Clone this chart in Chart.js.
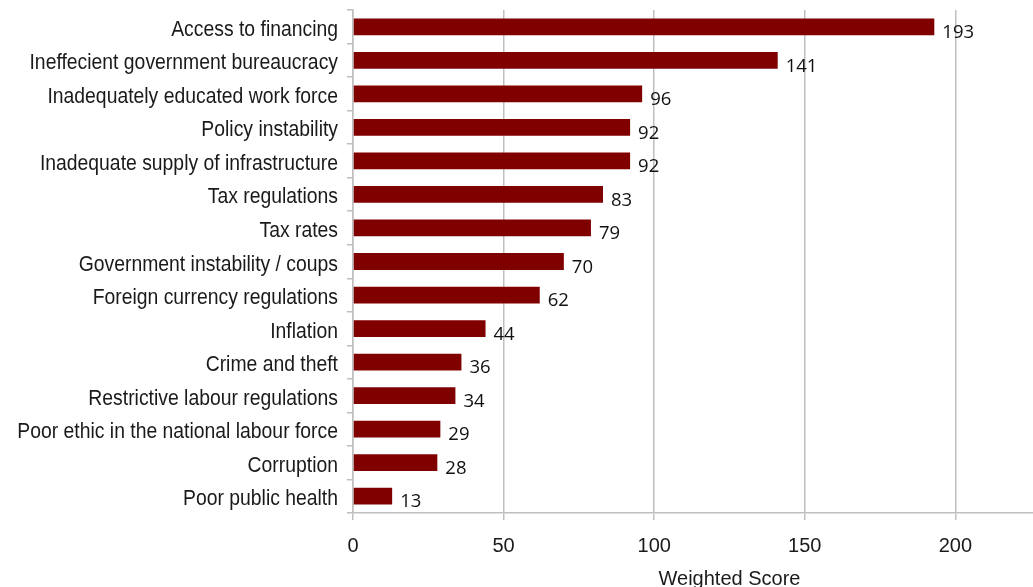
<!DOCTYPE html>
<html>
<head>
<meta charset="utf-8">
<script src="https://cdn.jsdelivr.net/npm/chart.js@4.4.0/dist/chart.umd.min.js"></script>
<style>
  html, body { margin: 0; padding: 0; background: #fff; overflow: hidden; width: 1033px; height: 587px; }
  #wrap { width: 1110px; height: 600px; }
</style>
</head>
<body>
<div id="wrap"><canvas id="myChart" width="1110" height="600"></canvas></div>
<script>
const categories = [
  "Access to financing",
  "Ineffecient government bureaucracy",
  "Inadequately educated work force",
  "Policy instability",
  "Inadequate supply of infrastructure",
  "Tax regulations",
  "Tax rates",
  "Government instability / coups",
  "Foreign currency regulations",
  "Inflation",
  "Crime and theft",
  "Restrictive labour regulations",
  "Poor ethic in the national labour force",
  "Corruption",
  "Poor public health"
];
const scores = [193, 141, 96, 92, 92, 83, 79, 70, 62, 44, 36, 34, 29, 28, 13];
const xTicks = [0, 50, 100, 150, 200, 250];

const labelFont = "'Liberation Sans', Arial, sans-serif";

// value labels to the right of each bar
const barValues = {
  id: "barValues",
  afterDatasetsDraw(chart) {
    const ctx = chart.ctx;
    const meta = chart.getDatasetMeta(0);
    ctx.save();
    ctx.font = "18.5px 'Open Sans', sans-serif";
    ctx.fillStyle = "#111";
    ctx.textAlign = "left";
    ctx.textBaseline = "middle";
    meta.data.forEach((bar, i) => {
      ctx.fillText(String(scores[i]), bar.x + 8, bar.y + 6);
    });
    ctx.restore();
  }
};

// category names, squeezed sideways to look like the condensed face in the original
const narrowLabels = {
  id: "narrowLabels",
  afterDraw(chart) {
    const ctx = chart.ctx;
    const y = chart.scales.y;
    ctx.save();
    ctx.font = "22px " + labelFont;
    ctx.fillStyle = "#1a1a1a";
    ctx.textAlign = "right";
    ctx.textBaseline = "middle";
    categories.forEach((c, i) => {
      ctx.save();
      ctx.translate(338, y.getPixelForValue(i) + 3);
      ctx.scale(0.88, 1);
      ctx.fillText(c, 0, 0);
      ctx.restore();
    });
    ctx.restore();
  }
};

const ctx = document.getElementById("myChart").getContext("2d");
const myChart = new Chart(ctx, {
  type: "bar",
  data: {
    labels: categories,
    datasets: [{
      data: scores,
      backgroundColor: "#800000",
      borderWidth: 0,
      barPercentage: 0.5,
      categoryPercentage: 1.0
    }]
  },
  options: {
    indexAxis: "y",
    responsive: false,
    animation: false,
    devicePixelRatio: 1,
    layout: { padding: { top: 10, right: 4, left: 0, bottom: 0 } },
    plugins: {
      legend: { display: false },
      tooltip: { enabled: false }
    },
    scales: {
      x: {
        min: 0,
        max: 250,
        afterBuildTicks: (scale) => { scale.ticks = xTicks.map(v => ({ value: v })); },
        afterFit: (scale) => { scale.height = 87; scale.paddingRight = 0; scale.paddingLeft = 0; },
        grid: { color: "#bfbfbf", lineWidth: 1.5, tickLength: 7, drawTicks: true },
        border: { color: "#bfbfbf", width: 1.5 },
        ticks: {
          color: "#1a1a1a",
          padding: 14,
          font: { family: labelFont, size: 20 }
        },
        title: {
          display: true,
          text: "Weighted Score",
          color: "#1a1a1a",
          font: { family: labelFont, size: 20 },
          padding: { top: 0, bottom: 9 }
        }
      },
      y: {
        afterFit: (scale) => { scale.width = 353; scale.paddingTop = 0; scale.paddingBottom = 0; },
        grid: { drawOnChartArea: false, color: "#bfbfbf", lineWidth: 1.5, tickLength: 6, offset: true },
        border: { color: "#bfbfbf", width: 1.5 },
        ticks: {
          color: "rgba(0,0,0,0)",
          padding: 9,
          font: { family: labelFont, size: 22 }
        }
      }
    }
  },
  plugins: [barValues, narrowLabels]
});
</script>
</body>
</html>
